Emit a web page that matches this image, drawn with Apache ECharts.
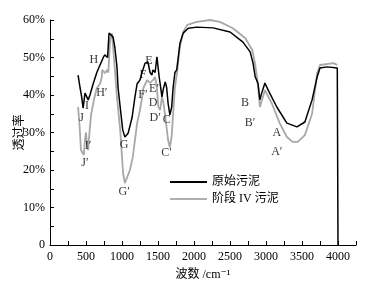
<!DOCTYPE html>
<html>
<head>
<meta charset="utf-8">
<script src="https://cdn.jsdelivr.net/npm/echarts@6/dist/echarts.min.js"></script>
<style>
    body{ margin:0; background:#fff; }
    #chart{ width:375px; height:290px; }
</style>
</head>
<body>
<div id="chart"></div>
<script>
// 原始污泥 (wavenumber, %)
var rawSludge = [
    [390,45.3],[417,42],[440,39.5],[460,36.5],[486,40.5],[510,41],[530,38.7],[555,40],
    [600,43],[650,46],[695,48],[740,50],[760,50.7],[780,50.7],[800,50],[820,56.5],
    [845,56.8],[875,55.5],[900,52.8],[930,47.5],[945,42],[985,35],[1010,30.7],[1040,28.8],
    [1085,29.8],[1140,34],[1180,39.5],[1210,43],[1250,44],[1275,45.8],[1320,48.5],[1360,48.8],
    [1390,46],[1415,45.3],[1430,46.7],[1460,46],[1485,50.2],[1500,49.8],[1515,45],[1555,39.5],
    [1570,41.3],[1600,43.5],[1620,42],[1640,37.8],[1665,34.7],[1690,36.8],[1710,42],[1735,46],
    [1760,46.7],[1805,53.8],[1850,56.5],[1920,57.8],[2040,58.1],[2265,57.9],[2500,56.8],
    [2680,54.1],[2780,51.5],[2820,48.5],[2850,44.8],[2870,44],[2890,43],[2915,38.7],[2940,40.5],
    [2985,43.2],[3030,41.3],[3150,36.8],[3290,32.5],[3430,31.5],[3540,32.8],[3640,38.7],
    [3710,44.8],[3750,47.2],[3850,47.5],[3990,47.2],[4000,0]
];
// 阶段 IV 污泥
var stage4Sludge = [
    [390,36.8],[410,32],[430,25.3],[470,24],[485,28],[500,30],[515,26.7],[530,25.3],
    [545,29.3],[570,34.7],[610,38.7],[650,41.8],[695,43],[720,44.8],[725,46.7],[740,46.5],
    [765,45.8],[790,46.7],[810,46],[835,54.7],[860,56.5],[880,52],[930,39.5],[975,30.7],
    [1000,23.5],[1015,19.2],[1040,16.5],[1070,18],[1110,20],[1150,23.5],[1180,28],[1210,32.5],
    [1250,36],[1280,39.5],[1295,41.8],[1350,44],[1390,43.2],[1430,44],[1460,44.8],[1485,41.8],
    [1505,36.8],[1530,36],[1555,39.5],[1575,38],[1600,34.5],[1640,28],[1665,26],[1690,29],
    [1710,35],[1735,42],[1765,46],[1805,53],[1850,56.8],[1905,58.7],[2040,59.5],[2220,60],
    [2360,59.5],[2540,57.8],[2710,55.2],[2810,52],[2850,48],[2880,44],[2900,40],[2915,36.8],
    [2985,41.3],[3080,37.8],[3190,32.5],[3290,28.8],[3370,27.5],[3440,27.5],[3540,29.3],
    [3640,35],[3710,45.8],[3750,48],[3940,48.5],[3990,48]
];
// 峰标注
var peakLabels = [
    [3150,29.9,'A'],[3150,24.8,'A\u2032'],[2710,37.9,'B'],[2780,32.5,'B\u2032'],
    [1620,33.3,'C'],[1620,24.5,'C\u2032'],[1430,37.8,'D'],[1460,33.8,'D\u2032'],
    [1375,49,'E'],[1445,41.6,'E\u2032'],[1290,45.3,'F'],[1290,40,'F\u2032'],
    [1030,26.7,'G'],[1030,14.1,'G\u2032'],[610,49.3,'H'],[720,40.5,'H\u2032'],
    [515,37,'I'],[530,26.4,'I\u2032'],[440,34,'J'],[485,21.9,'J\u2032']
];

var serif = "'Liberation Serif', 'DejaVu Serif', 'Noto Sans CJK SC', serif";
var charts = echarts.init(document.getElementById('chart'));
var option = {
    animation: false,
    textStyle: { fontFamily: serif, color: '#000' },
    grid: { left: 50, right: 19, top: 20, bottom: 45 },
    legend: {
        orient: 'vertical',
        left: 165,
        top: 171,
        itemWidth: 37,
        itemHeight: 2,
        itemGap: 5,
        icon: 'rect',
        textStyle: { fontFamily: serif, fontSize: 12, color: '#000' },
        data: ['原始污泥', '阶段 IV 污泥']
    },
    xAxis: {
        type: 'value',
        min: 0,
        max: 4250,
        interval: 250,
        name: '波数 /cm\u207B\u00B9',
        nameLocation: 'middle',
        nameGap: 24,
        nameTextStyle: { fontFamily: serif, fontSize: 12, color: '#000' },
        axisLine: { lineStyle: { color: '#000' } },
        axisTick: { inside: true, length: 4, lineStyle: { color: '#000' } },
        axisLabel: {
            fontFamily: serif, fontSize: 12, color: '#000', margin: 6,
            formatter: function (v) { return v % 500 === 0 ? String(v) : ''; }
        },
        splitLine: { show: false }
    },
    yAxis: {
        type: 'value',
        min: 0,
        max: 60,
        interval: 5,
        name: '透过率',
        nameLocation: 'middle',
        nameGap: 24,
        nameMoveOverlap: false,
        nameRotate: 90,
        nameTextStyle: { fontFamily: serif, fontSize: 12, color: '#000' },
        axisLine: { show: true, lineStyle: { color: '#000' } },
        axisTick: { show: true, inside: true, length: 4, lineStyle: { color: '#000' } },
        axisLabel: {
            fontFamily: serif, fontSize: 12, color: '#000', margin: 5,
            formatter: function (v) {
                if (v % 10 !== 0) return '';
                return v === 0 ? '0' : v + '%';
            }
        },
        splitLine: { show: false }
    },
    series: [
        {
            name: '原始污泥',
            type: 'line',
            symbol: 'none',
            z: 3,
            lineStyle: { color: '#000', width: 1.5 },
            itemStyle: { color: '#000' },
            data: rawSludge
        },
        {
            name: '阶段 IV 污泥',
            type: 'line',
            symbol: 'none',
            z: 2,
            lineStyle: { color: '#a8a8a8', width: 1.8 },
            itemStyle: { color: '#b0b0b0' },
            data: stage4Sludge
        },
        {
            type: 'scatter',
            symbolSize: 0,
            silent: true,
            z: 4,
            label: {
                show: true,
                position: 'inside',
                fontFamily: serif,
                fontSize: 12,
                color: '#000',
                formatter: function (p) { return p.data[2]; }
            },
            data: peakLabels
        }
    ]
};
charts.setOption(option);
</script>
</body>
</html>
